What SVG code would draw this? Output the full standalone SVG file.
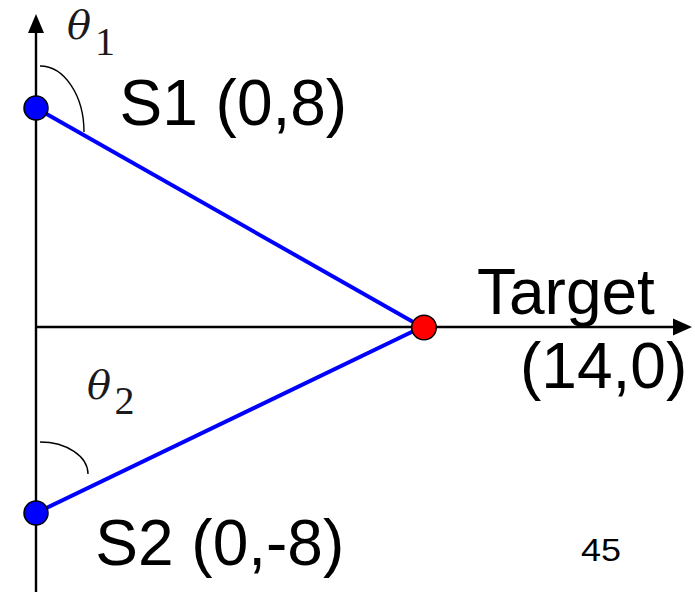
<svg xmlns="http://www.w3.org/2000/svg" width="695" height="592" viewBox="0 0 695 592">
<style>
.lbl{font-family:"Liberation Sans",Arial,sans-serif;font-size:64px;fill:#000}
.th{font-family:"DejaVu Serif","Liberation Serif",serif;font-style:italic;font-size:40px;fill:#1a1a1a}
.sub{font-family:"Liberation Serif","Times New Roman",serif;font-size:40px;fill:#1a1a1a;text-anchor:middle}
.axis{stroke:#000;stroke-width:2.4;fill:none}
.ray{stroke:#0000ff;stroke-width:4;fill:none}
.arc{stroke:#000;stroke-width:1.4;fill:none}
.src{fill:#0000ff;stroke:#000;stroke-width:1.5}
.tgt{fill:#ff0000;stroke:#000;stroke-width:1.5}
</style>
<rect width="695" height="592" fill="#fff"/>
<g id="connectors">
<line class="axis" x1="36" y1="592" x2="36" y2="30"/>
<polygon points="36,14 28,33 44,33" fill="#000"/>
<line class="axis" x1="36" y1="327" x2="676" y2="327"/>
<polygon points="692,327 673,318.5 673,335.5" fill="#000"/>
<line class="ray" x1="36" y1="108" x2="422" y2="327"/>
<line class="ray" x1="36" y1="513" x2="422" y2="327"/>
<path class="arc" d="M40,66 A44,66 0 0 1 84,132"/>
<path class="arc" d="M40,442 A48,32 0 0 1 88,474"/>
</g>
<g id="s1">
<circle class="src" cx="36" cy="108" r="12"/>
<text class="lbl" x="119.5" y="124.5">S1 (0,8)</text>
</g>
<g id="s2">
<circle class="src" cx="36" cy="513" r="12"/>
<text class="lbl" x="95.3" y="564.5">S2 (0,-8)</text>
</g>
<g id="target">
<circle class="tgt" cx="424" cy="327.5" r="12.3"/>
<text class="lbl" x="477" y="314">Target</text>
<text class="lbl" x="520" y="388">(14,0)</text>
</g>
<g id="theta1">
<text class="th" x="67" y="39">θ</text>
<text class="sub" x="105" y="55">1</text>
</g>
<g id="theta2">
<text class="th" x="87" y="399">θ</text>
<text class="sub" x="124.5" y="414">2</text>
</g>
<g id="page">
<text class="lbl" x="581" y="561" style="font-size:32px" textLength="40" lengthAdjust="spacingAndGlyphs">45</text>
</g>
</svg>
